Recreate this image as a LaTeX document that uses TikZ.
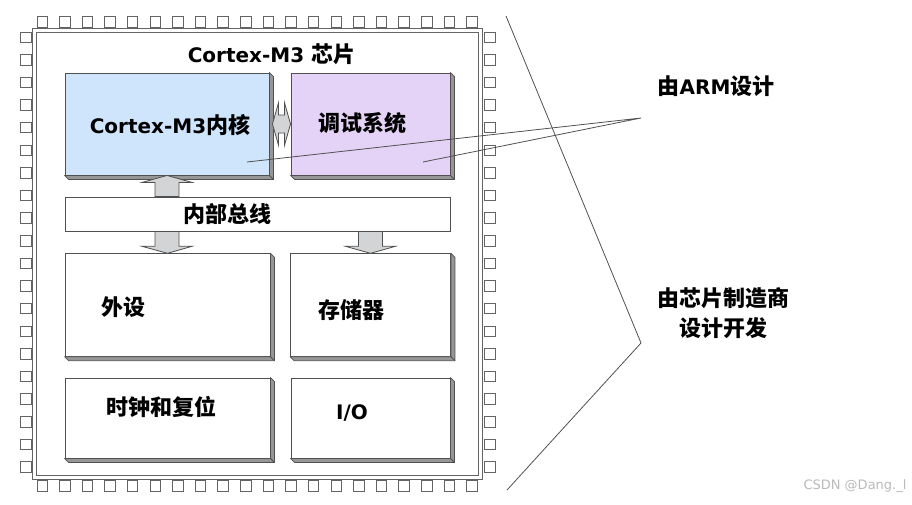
\documentclass[tikz,border=0pt]{standalone}
\usepackage{fontspec}
\setmainfont{DejaVu Sans}
\newfontfamily\zhfont{Noto Sans CJK SC}[Scale=1.1]
\usetikzlibrary{calc}
\definecolor{CoreBlue}{RGB}{206, 229, 251}
\definecolor{DebugPurple}{RGB}{229, 211, 247}
\definecolor{BevelGray}{RGB}{150, 150, 150}
\definecolor{LineGray}{RGB}{80, 80, 80}
\definecolor{FrameGray}{RGB}{100, 100, 100}
\definecolor{ArrowGray}{RGB}{210, 212, 214}
\newcommand{\zh}[1]{{\zhfont #1}}
% fat vertical arrow from #1 to #2 (same x)
\newcommand{\fatvert}[2]{%
    \filldraw[fatarrow] let \p1=(#1), \p2=(#2), \n1={sign(\y2-\y1)} in
        (\x1-12pt,\y1) -- (\x1-12pt,\y2-\n1*7pt) -- (\x1-25pt,\y2-\n1*7pt) -- (\x2,\y2)
        -- (\x1+25pt,\y2-\n1*7pt) -- (\x1+12pt,\y2-\n1*7pt) -- (\x1+12pt,\y1) -- cycle;}
% fat horizontal double arrow between #1 and #2 (same y)
\newcommand{\fatboth}[2]{%
    \filldraw[fatarrow] let \p1=(#1), \p2=(#2) in
        (\x1,\y1) -- (\x1+6pt,\y1+21pt) -- (\x1+6pt,\y1+9pt) -- (\x2-6pt,\y1+9pt)
        -- (\x2-6pt,\y1+21pt) -- (\x2,\y1) -- (\x2-6pt,\y1-21pt) -- (\x2-6pt,\y1-9pt)
        -- (\x1+6pt,\y1-9pt) -- (\x1+6pt,\y1-21pt) -- cycle;}

\begin{document}
\begin{tikzpicture}[x=1pt, y=-1pt,
    blockbox/.style={draw=LineGray, line width=0.9pt, fill=white, inner sep=0pt},
    bevelside/.style={fill=BevelGray, draw=LineGray, line width=0.8pt, line join=round},
    txt/.style={font=\bfseries\fontsize{20}{30}\selectfont, inner sep=0pt},
    pin/.style={draw=FrameGray, line width=1pt, fill=white},
    frame/.style={draw=FrameGray, line width=0.9pt},
    callout/.style={draw=LineGray, line width=0.8pt},
    fatarrow/.style={draw=LineGray, fill=ArrowGray, line width=0.8pt, line join=miter}]
        \useasboundingbox (0,0) rectangle (912,504);
        % chip package and pins
        \draw[frame] (32,28) rectangle (482,479.5);
        \draw[frame] (36,32) rectangle (478.5,475.5);
        \foreach \i in {0,...,19} {
            \draw[pin] ({37+22.62*\i},16) rectangle ++(10.5,11);
            \draw[pin] ({37+22.62*\i},480.5) rectangle ++(10.5,11);
            \draw[pin] (20,{32+22.62*\i}) rectangle ++(11,10.5);
            \draw[pin] (484,{32+22.62*\i}) rectangle ++(11,10.5);
        }
        \node[txt] (title) at (271.5,54) {Cortex-M3 \zh{芯片}};
        % blocks
        \node[blockbox, fill=CoreBlue, minimum width=204pt, minimum height=102pt] (core) at (167,124) {};
        \node[blockbox, fill=DebugPurple, minimum width=159pt, minimum height=102pt] (debug) at (370.5,124) {};
        \node[blockbox, minimum width=385pt, minimum height=34pt] (bus) at (257.5,214) {};
        \node[blockbox, minimum width=205pt, minimum height=102.5pt] (peri) at (167.5,305) {};
        \node[blockbox, minimum width=160pt, minimum height=102.5pt] (mem) at (370.5,305) {};
        \node[blockbox, minimum width=205pt, minimum height=80pt] (clk) at (167.5,418) {};
        \node[blockbox, minimum width=159pt, minimum height=80pt] (io) at (370.5,418) {};
        \foreach \b in {core, debug, peri, mem, clk, io} {
            \filldraw[bevelside] (\b.north east) -- ++(4,4) -- ([shift={(4,4)}]\b.south east)
                -- ([shift={(4,4)}]\b.south west) -- (\b.south west) -- (\b.south east) -- cycle;
            \draw[bevelside] (\b.south east) -- ++(4,4);
        }
        % bus arrows
        \fatvert{bus.north -| core.south}{core.south}
        \fatvert{bus.south -| core.south}{peri.north}
        \fatvert{bus.south -| mem.north}{mem.north}
        \fatboth{$(core.east)+(3,0)$}{$(debug.west |- core.east)$}
        % labels
        \node[txt] (coretxt) at (170,125) {Cortex-M3\zh{内核}};
        \node[txt] (dbgtxt) at (362,123.5) {\zh{调试系统}};
        \node[txt] (bustxt) at (227.5,214.5) {\zh{内部总线}};
        \node[txt] (peritxt) at (123,307) {\zh{外设}};
        \node[txt] (memtxt) at (351,310) {\zh{存储器}};
        \node[txt] (clktxt) at (161,407) {\zh{时钟和复位}};
        \node[txt] (iotxt) at (352,413) {I/O};
        % who designs what
        \node[txt] (armtxt) at (716,86) {\zh{由}ARM\zh{设计}};
        \node[txt, align=center] (vendortxt) at (723,313) {\zh{由芯片制造商}\\\zh{设计开发}};
        \coordinate (tip) at (641,118);
        \coordinate (coreend) at (247,162);
        \coordinate (dbgend) at (423,162);
        \draw[callout] (coreend) -- (tip) -- (dbgend);
        \coordinate (brtop) at (506,16);
        \coordinate (brmid) at (641,343);
        \coordinate (brbot) at (507,490);
        \draw[callout] (brtop) -- (brmid) -- (brbot);
        \node[font=\fontsize{13}{15}\selectfont, text=gray!55, inner sep=0pt] (wm) at (855,486) {CSDN @Dang.\_l};
    \end{tikzpicture}
\end{document}
